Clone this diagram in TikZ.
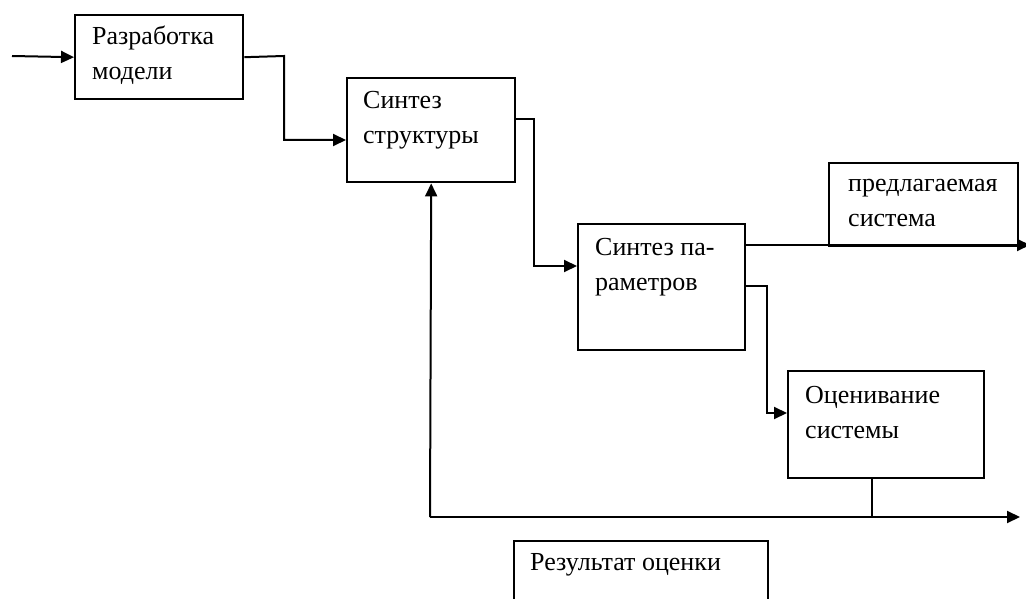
\documentclass[tikz,border=0pt]{standalone}
\usepackage{fontspec}
\setmainfont{Liberation Serif}
\newfontfamily\capfont{Liberation Serif}
\usetikzlibrary{arrows.meta,calc}
\begin{document}
\begin{tikzpicture}[x=1pt,y=-1pt,
  box/.style={draw, line width=2.4pt, anchor=north west, inner sep=0pt},
  lbl/.style={anchor=base west, inner sep=0pt, font=\capfont\fontsize{26}{35}\selectfont},
  wire/.style={line width=2pt},
  arr/.style={wire, -{Triangle[length=13pt,width=12pt]}}]
\useasboundingbox[fill=white] (0,0) rectangle (1026,599);

% blocks
\node[box, minimum width=168, minimum height=84]  (b1)   at (74,14)  {};
\node[box, minimum width=168, minimum height=104] (b2)   at (346,77) {};
\node[box, minimum width=167, minimum height=126] (b3)   at (577,223) {};
\node[box, minimum width=189, minimum height=83]  (pred) at (828,162) {};
\node[box, minimum width=196, minimum height=107] (b4)   at (787,370) {};
\node[box, minimum width=254, minimum height=90]  (b5)   at (513,540) {};

% block captions
\node[lbl] (t1) at ($(b1.north west)+(18,31)$)   {\begin{tabular}[t]{@{}l@{}}Разработка\\модели\end{tabular}};
\node[lbl] (t2) at ($(b2.north west)+(17,32)$)   {\begin{tabular}[t]{@{}l@{}}Синтез\\структуры\end{tabular}};
\node[lbl] (t3) at ($(b3.north west)+(18,32)$)   {\begin{tabular}[t]{@{}l@{}}Синтез па-\\раметров\end{tabular}};
\node[lbl] (tp) at ($(pred.north west)+(20,30)$) {\begin{tabular}[t]{@{}l@{}}предлагаемая\\система\end{tabular}};
\node[lbl] (t4) at ($(b4.north west)+(18,33)$)   {\begin{tabular}[t]{@{}l@{}}Оценивание\\системы\end{tabular}};
\node[lbl] (t5) at ($(b5.north west)+(17,30)$)   {Результат оценки};

% routing points
\coordinate (in)  at (12,56);
\coordinate (k1)  at (284,56);
\coordinate (k2)  at (284,140);
\coordinate (s2)  at (514,119);
\coordinate (k3)  at (534,119);
\coordinate (k4)  at (534,266);
\coordinate (s3a) at (744,245);
\coordinate (out1) at (1030,245);
\coordinate (s3b) at (744,286);
\coordinate (k5)  at (767,286);
\coordinate (k6)  at (767,413);
\coordinate (j)   at (872,517);
\coordinate (fb)  at (430,517);
\coordinate (out2) at (1020,517);

% connectors
\draw[arr] (in) -- (b1.west);
\draw[arr] (b1.east) -- (k1) -- (k2) -- (k2 -| b2.west);
\draw[arr] (s2) -- (k3) -- (k4) -- (k4 -| b3.west);
\draw[arr] (s3a) -- (out1);
\draw[arr] (s3b) -- (k5) -- (k6) -- (k6 -| b4.west);
\draw[wire] (b4.south -| j) -- (j);
\draw[arr] (fb) -- (out2);
\draw[arr] (fb) -- (b2.south);
\end{tikzpicture}
\end{document}
